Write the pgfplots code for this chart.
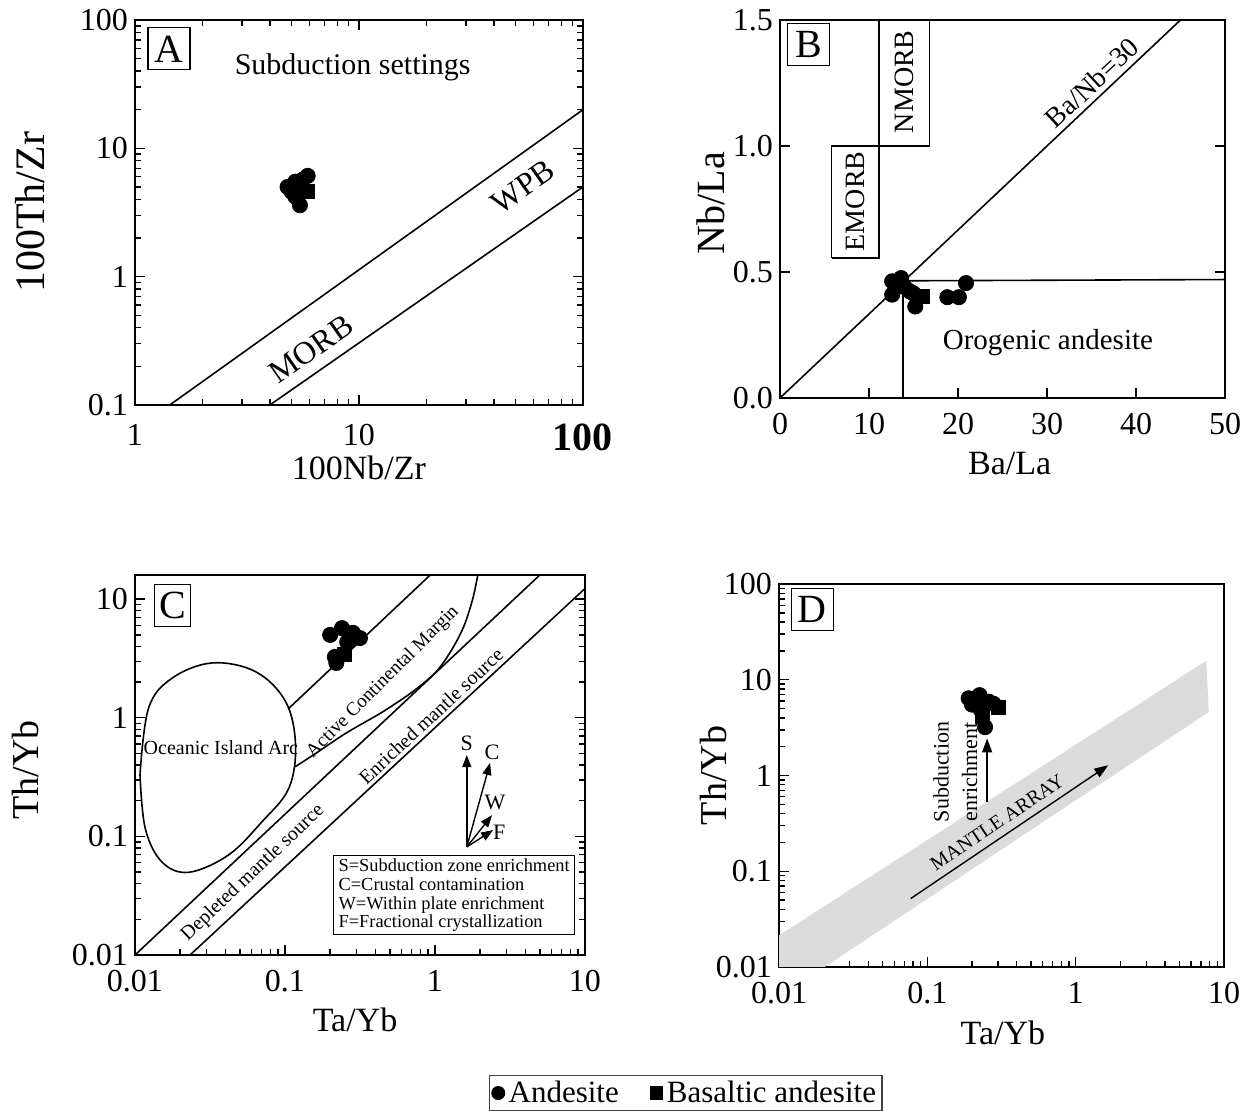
\documentclass[border=0pt]{standalone}
\usepackage{pgfplots}
\pgfplotsset{compat=1.18}
\usepackage{fontspec}
\setmainfont{Liberation Serif}
\usetikzlibrary{arrows.meta}
\newcommand{\fs}[1]{\fontsize{#1}{#1}\selectfont}
\pgfplotsset{
  panel/.style={
    scale only axis, anchor=south west,
    axis line style={line width=1.1pt},
    tick style={black, line width=0.7pt},
    tick align=inside,
    major tick length=5pt, minor tick length=2.8pt,
    ticklabel style={font=\fs{16}},
    /pgf/number format/assume math mode=true,
    xlabel style={font=\fs{17}, anchor=center},
    ylabel style={font=\fs{19}, anchor=center},
  },
  andes/.style={only marks, black, mark=*, mark size=3.8pt},
  basand/.style={only marks, black, mark=square*, mark size=3.5pt},
}
\tikzset{lbl/.style={draw, line width=0.6pt, minimum width=21pt, minimum height=21pt, inner sep=0pt, font=\fs{20}}}
\begin{document}
\begin{tikzpicture}
\useasboundingbox (0,0) rectangle (623.5pt,555.5pt);

% ---------------- Panel A ----------------
\begin{axis}[panel, at={(67.5pt,353pt)}, width=224pt, height=192.5pt,
  xmode=log, ymode=log, xmin=1, xmax=100, ymin=0.1, ymax=100,
  xtick={1,10,100}, xticklabels={1,10,{\fs{20}\bfseries 100}},
  minor xtick={2,3,4,5,6,7,8,9,20,30,40,50,60,70,80,90},
  ytick={0.1,1,10,100}, yticklabels={0.1,1,10,100},
  minor ytick={0.2,0.3,0.4,0.5,0.6,0.7,0.8,0.9,2,3,4,5,6,7,8,9,20,30,40,50,60,70,80,90},
  xticklabel style={yshift=-6pt},
  xlabel={100Nb/Zr}, ylabel={100Th/Zr},
  xlabel style={at={(axis description cs:0.5,-0.164)}},
  ylabel style={at={(axis description cs:-0.234,0.5)}, font=\fs{21}},
]
\addplot[black, line width=0.8pt] coordinates {(1.43,0.1) (100,20)};
\addplot[black, line width=0.8pt] coordinates {(4.0,0.1) (100,5)};
\addplot[andes] coordinates {(5.9,6.1) (5.6,5.7) (5.2,5.5) (4.8,5.0) (5.0,4.6) (5.2,4.2) (5.45,3.6) (5.5,5.0)};
\addplot[basand] coordinates {(5.9,4.6)};
\node[lbl] at (rel axis cs:0.076,0.925) {A};
\node[font=\fs{15}] at (rel axis cs:0.486,0.877) {Subduction settings};
\node[rotate=35, font=\fs{16}] at (axis cs:6.1,0.273) {MORB};
\node[rotate=35, font=\fs{16}] at (axis cs:54,5.0) {WPB};
\end{axis}

% ---------------- Panel B ----------------
\begin{axis}[panel, at={(390pt,356.5pt)}, width=222.5pt, height=189pt,
  xmin=0, xmax=50, ymin=0, ymax=1.5,
  xtick={0,10,20,30,40,50}, xticklabels={0,10,20,30,40,50},
  ytick={0,0.5,1,1.5}, yticklabels={0.0,0.5,1.0,1.5},
  xtick pos=bottom,
  xticklabel style={yshift=-4pt},
  xlabel={Ba/La}, ylabel={Nb/La},
  xlabel style={at={(axis description cs:0.516,-0.172)}},
  ylabel style={at={(axis description cs:-0.155,0.515)}, font=\fs{20}},
]
\addplot[black, line width=0.8pt] coordinates {(0,0) (45,1.5)};
\addplot[black, line width=0.8pt] coordinates {(13.8,0.465) (50,0.47)};
\addplot[black, line width=0.8pt] coordinates {(13.8,0) (13.8,0.465)};
\addplot[black, line width=0.8pt] coordinates {(5.8,0.555) (11.1,0.555) (11.1,1.0) (5.8,1.0) (5.8,0.555)};
\addplot[black, line width=0.8pt] coordinates {(11.1,1.0) (16.8,1.0) (16.8,1.5) (11.1,1.5) (11.1,1.0)};
\addplot[andes] coordinates {(12.6,0.463) (13.6,0.476) (12.6,0.41) (14.6,0.423) (15.2,0.363) (15.0,0.415) (14.0,0.44) (18.8,0.40) (20.1,0.40) (20.9,0.456)};
\addplot[basand] coordinates {(16.0,0.403)};
\node[lbl] at (rel axis cs:0.064,0.935) {B};
\node[rotate=90, font=\fs{14}] at (axis cs:8.45,0.78) {EMORB};
\node[rotate=90, font=\fs{14}] at (axis cs:13.95,1.255) {NMORB};
\node[rotate=43, anchor=south, inner sep=2.5pt, font=\fs{14}] at (axis cs:36.2,1.207) {Ba/Nb=30};
\node[font=\fs{14.5}] at (axis cs:30.1,0.218) {Orogenic andesite};
\end{axis}

% ---------------- Panel C ----------------
\begin{axis}[panel, at={(67.5pt,78pt)}, width=225pt, height=190pt,
  xmode=log, ymode=log, xmin=0.01, xmax=10, ymin=0.01, ymax=16,
  xtick={0.01,0.1,1,10}, xticklabels={0.01,0.1,1,10},
  ytick={0.01,0.1,1,10}, yticklabels={0.01,0.1,1,10},
  minor xtick={0.02,0.03,0.04,0.05,0.06,0.07,0.08,0.09,0.2,0.3,0.4,0.5,0.6,0.7,0.8,0.9,2,3,4,5,6,7,8,9},
  minor ytick={0.02,0.03,0.04,0.05,0.06,0.07,0.08,0.09,0.2,0.3,0.4,0.5,0.6,0.7,0.8,0.9,2,3,4,5,6,7,8,9},
  xtick pos=bottom,
  xticklabel style={yshift=-4pt},
  xlabel={Ta/Yb}, ylabel={Th/Yb},
  xlabel style={at={(axis description cs:0.489,-0.171)}},
  ylabel style={at={(axis description cs:-0.244,0.487)}},
  legend style={at={(axis description cs:1.2244,-0.3632)}, anchor=center,
    draw=black!75, line width=0.6pt, font=\fs{15.5}, legend columns=2,
    inner xsep=1pt, inner ysep=0.5pt,
    /tikz/every even column/.append style={column sep=14pt}},
  legend image code/.code={\draw[#1] plot coordinates {(0.12cm,0cm)};},
]
\addlegendimage{black, mark=*, mark size=3.2pt}
\addlegendentry{Andesite}
\addlegendimage{black, mark=square*, mark size=3pt}
\addlegendentry{Basaltic andesite}
% oceanic island arc
\addplot[black, line width=0.8pt, smooth, tension=0.6, forget plot] coordinates {
 (0.0108,0.33) (0.0123,1.2) (0.0176,2.15) (0.0326,2.9) (0.0636,2.45) (0.101,1.37)
 (0.1176,0.59) (0.106,0.254) (0.0703,0.133) (0.042,0.0697) (0.0228,0.0498)
 (0.0151,0.061) (0.0117,0.117) (0.0108,0.33)};
% active continental margin
\addplot[black, line width=0.8pt, forget plot] coordinates {(0.106,1.2) (0.93,16)};
\addplot[black, line width=0.8pt, smooth, forget plot] coordinates {
 (1.93,16) (1.79,10.2) (1.57,6.05) (1.31,3.85) (1.02,2.45) (0.71,1.66) (0.447,1.12)
 (0.254,0.74) (0.16,0.5) (0.117,0.387)};
% mantle source lines
\addplot[black, line width=0.8pt, forget plot] coordinates {(0.01,0.01) (5,16)};
\addplot[black, line width=0.8pt, forget plot] coordinates {(0.0233,0.01) (10,12.3)};
% vectors
\addplot[black, line width=0.7pt, -{Triangle[length=6pt,width=4.5pt]}, forget plot] coordinates {(1.63,0.0815) (1.63,0.485)};
\addplot[black, line width=0.7pt, -{Triangle[length=6pt,width=4.5pt]}, forget plot] coordinates {(1.63,0.0815) (2.33,0.416)};
\addplot[black, line width=0.7pt, -{Triangle[length=6pt,width=4.5pt]}, forget plot] coordinates {(1.63,0.0815) (2.4,0.151)};
\addplot[black, line width=0.7pt, -{Triangle[length=6pt,width=4.5pt]}, forget plot] coordinates {(1.63,0.0815) (2.44,0.113)};
\addplot[andes, forget plot] coordinates {(0.2,5.0) (0.24,5.7) (0.284,5.2) (0.316,4.7) (0.26,4.35) (0.215,3.26) (0.22,2.9)};
\addplot[basand, forget plot] coordinates {(0.25,3.4)};
\node[lbl, minimum width=18pt] at (rel axis cs:0.084,0.92) {C};
\node[font=\fs{10}] at (axis cs:0.0374,0.556) {Oceanic Island Arc};
\node[font=\fs{9.6}, rotate=45] at (axis cs:0.45,2.0) {Active Continental Margin};
\node[font=\fs{10}, rotate=43] at (axis cs:0.94,1.035) {Enriched mantle source};
\node[font=\fs{10}, rotate=43.6] at (axis cs:0.0612,0.049) {Depleted mantle source};
\node[font=\fs{11}] at (axis cs:1.63,0.614) {S};
\node[font=\fs{11}] at (axis cs:2.4,0.515) {C};
\node[font=\fs{11}] at (axis cs:2.51,0.195) {W};
\node[font=\fs{11}] at (axis cs:2.68,0.109) {F};
\node[draw, line width=0.6pt, anchor=north west, align=left, inner xsep=2.5pt, inner ysep=1.5pt,
  font=\fontsize{9.2}{9.4}\selectfont] at (rel axis cs:0.44,0.263)
  {S=Subduction zone enrichment\\C=Crustal contamination\\W=Within plate enrichment\\F=Fractional crystallization};
\end{axis}

% ---------------- Panel D ----------------
\begin{axis}[panel, at={(389.5pt,72pt)}, width=222.5pt, height=191.5pt,
  xmode=log, ymode=log, xmin=0.01, xmax=10, ymin=0.01, ymax=100,
  xtick={0.01,0.1,1,10}, xticklabels={0.01,0.1,1,10},
  ytick={0.01,0.1,1,10,100}, yticklabels={0.01,0.1,1,10,100},
  minor xtick={0.02,0.03,0.04,0.05,0.06,0.07,0.08,0.09,0.2,0.3,0.4,0.5,0.6,0.7,0.8,0.9,2,3,4,5,6,7,8,9},
  minor ytick={0.02,0.03,0.04,0.05,0.06,0.07,0.08,0.09,0.2,0.3,0.4,0.5,0.6,0.7,0.8,0.9,2,3,4,5,6,7,8,9,20,30,40,50,60,70,80,90},
  xtick pos=bottom, ytick pos=left,
  xticklabel style={yshift=-4pt},
  xlabel={Ta/Yb}, ylabel={Th/Yb},
  xlabel style={at={(axis description cs:0.503,-0.172)}},
  ylabel style={at={(axis description cs:-0.148,0.5)}},
]
\addplot[fill=black!14, draw=none] coordinates {(0.01,0.0214) (7.6,15.8) (7.9,4.6) (0.0203,0.01) (0.01,0.01)} -- cycle;
\addplot[black, line width=0.7pt, -{Triangle[length=7pt,width=5pt]}] coordinates {(0.0772,0.0518) (1.66,1.28)};
\addplot[black, line width=0.7pt, -{Triangle[length=7pt,width=5pt]}] coordinates {(0.253,0.53) (0.253,2.44)};
\addplot[andes] coordinates {(0.19,6.4) (0.225,6.9) (0.26,5.9) (0.2,5.5) (0.24,5.4) (0.245,3.2) (0.28,5.6) (0.23,4.8)};
\addplot[basand] coordinates {(0.234,4.1) (0.3,5.1)};
\node[lbl] at (rel axis cs:0.075,0.933) {D};
\node[font=\fs{10}, rotate=34] at (axis cs:0.295,0.323) {MANTLE ARRAY};
\node[font=\fs{11}, rotate=90] at (axis cs:0.124,1.09) {Subduction};
\node[font=\fs{11}, rotate=90] at (axis cs:0.193,1.09) {enrichment};
\end{axis}
\end{tikzpicture}
\end{document}
